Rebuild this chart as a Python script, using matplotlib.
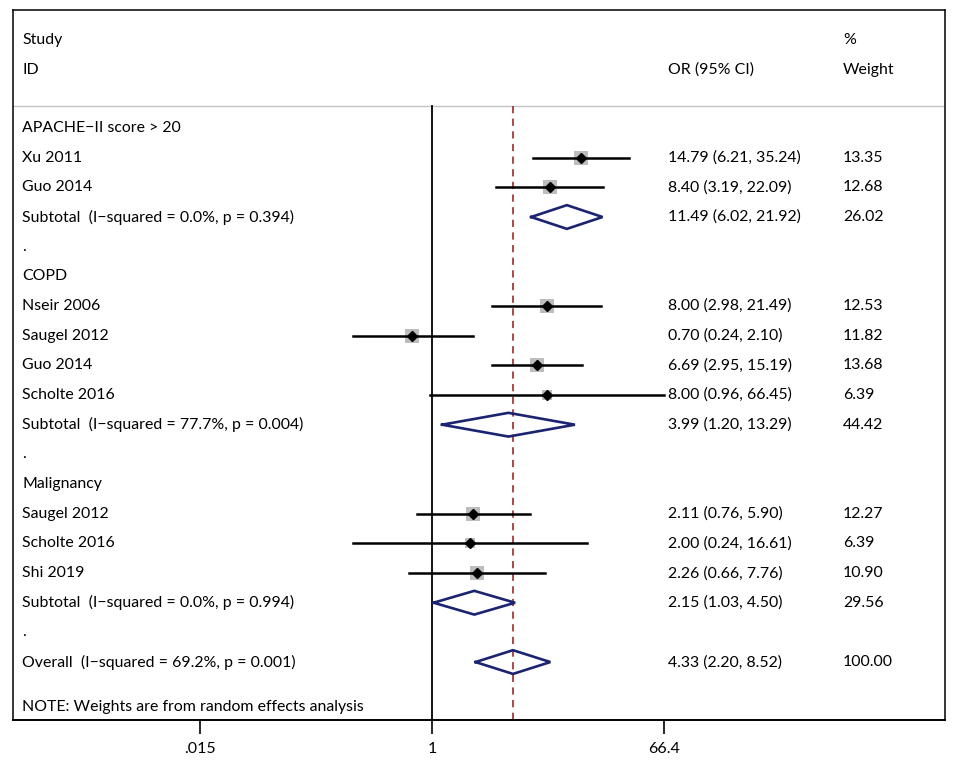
import matplotlib
matplotlib.use('Agg')
import matplotlib.pyplot as plt
import matplotlib.transforms as mtransforms
import numpy as np

plt.rcParams['font.family'] = ['Lato', 'DejaVu Sans']

# rows of the forest plot, top to bottom
labels = ['APACHE\u2212II score > 20', 'Xu 2011', 'Guo 2014',
          'Subtotal  (I\u2212squared = 0.0%, p = 0.394)', '.',
          'COPD', 'Nseir 2006', 'Saugel 2012', 'Guo 2014', 'Scholte 2016',
          'Subtotal  (I\u2212squared = 77.7%, p = 0.004)', '.',
          'Malignancy', 'Saugel 2012', 'Scholte 2016', 'Shi 2019',
          'Subtotal  (I\u2212squared = 0.0%, p = 0.994)', '.',
          'Overall  (I\u2212squared = 69.2%, p = 0.001)']
kind = ['head', 'study', 'study', 'sub', 'blank',
        'head', 'study', 'study', 'study', 'study', 'sub', 'blank',
        'head', 'study', 'study', 'study', 'sub', 'blank', 'sub']
odds = [None, 14.79, 8.40, 11.49, None,
        None, 8.00, 0.70, 6.69, 8.00, 3.99, None,
        None, 2.11, 2.00, 2.26, 2.15, None, 4.33]
ci_lo = [None, 6.21, 3.19, 6.02, None,
         None, 2.98, 0.24, 2.95, 0.96, 1.20, None,
         None, 0.76, 0.24, 0.66, 1.03, None, 2.20]
ci_hi = [None, 35.24, 22.09, 21.92, None,
         None, 21.49, 2.10, 15.19, 66.45, 13.29, None,
         None, 5.90, 16.61, 7.76, 4.50, None, 8.52]
weight = [None, 13.35, 12.68, 26.02, None,
          None, 12.53, 11.82, 13.68, 6.39, 44.42, None,
          None, 12.27, 6.39, 10.90, 29.56, None, 100.00]
overall_or = 4.33
xticks = [0.015, 1, 66.4]
xtick_labels = ['.015', '1', '66.4']

fig = plt.figure(figsize=(9.57, 7.6), dpi=100)
W, H = 957, 760
# frame in pixels: left 13, right 945, top 10, bottom 720
ax = fig.add_axes([13 / W, 1 - 720 / H, 932 / W, 710 / H])
ax.set_xscale('log')
px_per_ln = 55.24
ax.set_xlim(np.exp((13 - 432) / px_per_ln), np.exp((945 - 432) / px_per_ln))
row_px = 29.67
ax.set_ylim((720 - 128) / row_px, (10 - 128) / row_px)

for s in ax.spines.values():
    s.set_color('black')
    s.set_linewidth(1.1)
ax.spines['bottom'].set_linewidth(1.4)

ax.set_xticks(xticks)
ax.set_xticklabels(xtick_labels)
ax.minorticks_off()
ax.tick_params(axis='x', direction='out', length=10, width=1.2, pad=6, labelsize=11.5)
ax.set_yticks([])

sep = (106 - 128) / row_px
ax.axhline(sep, color='#c4c4c4', lw=1.0)
ymax_bottom = (720 - 128) / row_px
ax.plot([1, 1], [sep, ymax_bottom], color='black', lw=1.3)
ax.plot([overall_or, overall_or], [sep, ymax_bottom], color='#a33a3a', lw=1.3,
        dashes=(4, 3))

tr = mtransforms.blended_transform_factory(ax.transAxes, ax.transData)
x_lab, x_or, x_w = 9 / 932, 655 / 932, 830 / 932
fs = 11.4

ax.text(x_lab, (40 - 128) / row_px, 'Study', transform=tr, va='center', fontsize=fs)
ax.text(x_lab, (70 - 128) / row_px, 'ID', transform=tr, va='center', fontsize=fs)
ax.text(x_or, (70 - 128) / row_px, 'OR (95% CI)', transform=tr, va='center', fontsize=fs)
ax.text(x_w, (40 - 128) / row_px, '%', transform=tr, va='center', fontsize=fs)
ax.text(x_w, (70 - 128) / row_px, 'Weight', transform=tr, va='center', fontsize=fs)

for i, lab in enumerate(labels):
    ax.text(x_lab, i, lab, transform=tr, va='center', fontsize=fs)
    k = kind[i]
    if k == 'study':
        ax.plot([ci_lo[i], ci_hi[i]], [i, i], color='black', lw=1.8, zorder=3)
        side = 14.7 * 0.72 * np.sqrt(weight[i] / 13.35)
        ax.plot(odds[i], i, marker='s', markersize=side, color='#bdbdbd',
                markeredgewidth=0, zorder=2)
        ax.plot(odds[i], i, marker='D', markersize=5, color='black', zorder=4)
    elif k == 'sub':
        xs = [ci_lo[i], odds[i], ci_hi[i], odds[i], ci_lo[i]]
        ys = [i, i - 0.4, i, i + 0.4, i]
        ax.plot(xs, ys, color='#1a2470', lw=1.9, zorder=3, solid_joinstyle='miter')
    if odds[i] is not None:
        ax.text(x_or, i, f'{odds[i]:.2f} ({ci_lo[i]:.2f}, {ci_hi[i]:.2f})',
                transform=tr, va='center', fontsize=fs)
        ax.text(x_w, i, f'{weight[i]:.2f}', transform=tr, va='center', fontsize=fs)

ax.text(x_lab, (707 - 128) / row_px, 'NOTE: Weights are from random effects analysis',
        transform=tr, va='center', fontsize=fs)

fig.savefig('out.png', dpi=100)
